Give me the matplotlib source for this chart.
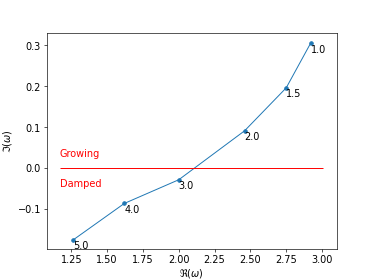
import matplotlib
matplotlib.use("Agg")
import matplotlib.pyplot as plt

re_omega = [2.92, 2.75, 2.46, 2.00, 1.62, 1.26]
im_omega = [0.305, 0.196, 0.091, -0.029, -0.087, -0.177]
labels = ["1.0", "1.5", "2.0", "3.0", "4.0", "5.0"]

fs = 12
fig = plt.figure(figsize=(6.4, 4.8), dpi=374 / 6.4)
ax = fig.add_subplot(111)
ax.plot(re_omega, im_omega, "-o", color="#1f77b4", markersize=4.5, linewidth=1.2)
for x, y, lab in zip(re_omega, im_omega, labels):
    ax.annotate(lab, (x, y), xytext=(0, -1), textcoords="offset points",
                va="top", ha="left", fontsize=fs)
ax.hlines(0, 1.17, 3.01, color="red", linewidth=1.2)
ax.text(1.17, 0.027, "Growing", color="red", fontsize=fs)
ax.text(1.17, -0.045, "Damped", color="red", fontsize=fs)
ax.set_xlabel(r"$\Re(\omega)$", fontsize=fs, labelpad=2)
ax.set_ylabel(r"$\Im(\omega)$", fontsize=fs)
ax.tick_params(labelsize=fs)
ax.set_xticks([1.25, 1.5, 1.75, 2.0, 2.25, 2.5, 2.75, 3.0])
ax.set_ylim(-0.199, 0.33)
fig.savefig("out.png", dpi=374 / 6.4)
